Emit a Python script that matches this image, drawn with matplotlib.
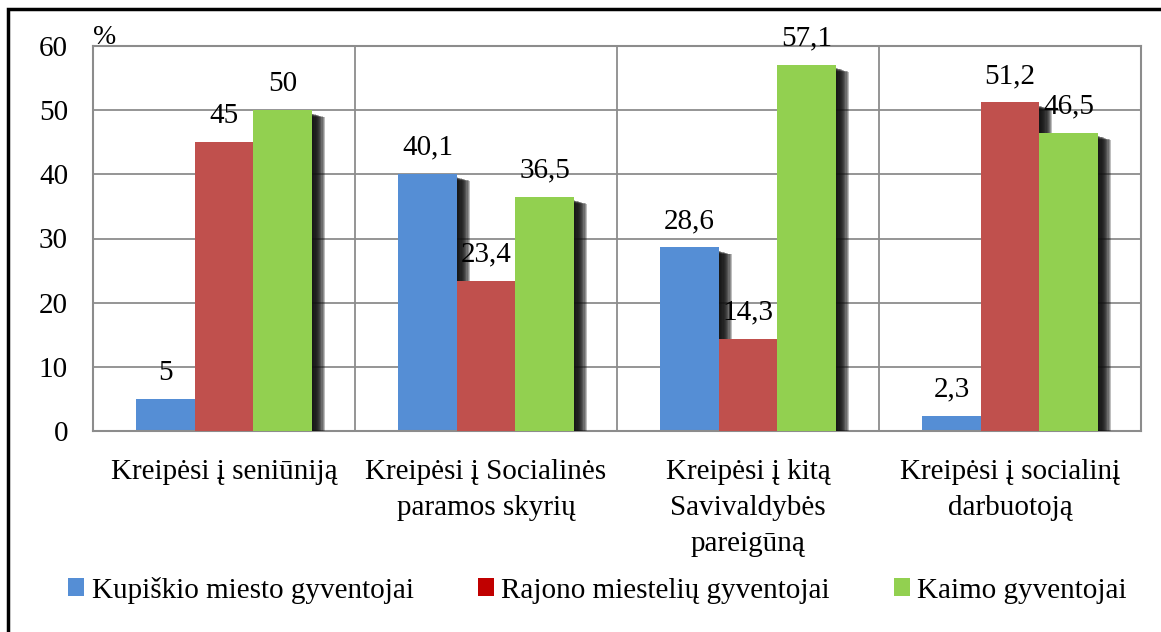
import matplotlib
matplotlib.use("Agg")
import matplotlib.pyplot as plt
import matplotlib.patheffects as pe
from matplotlib.patches import Rectangle, Patch
import numpy as np

categories = ["Kreipėsi į seniūniją", "Kreipėsi į Socialinės\nparamos skyrių",
              "Kreipėsi į kitą\nSavivaldybės\npareigūną", "Kreipėsi į socialinį\ndarbuotoją"]
series_names = ["Kupiškio miesto gyventojai", "Rajono miestelių gyventojai", "Kaimo gyventojai"]
kupiskis = [5, 40.1, 28.6, 2.3]
rajono = [45, 23.4, 14.3, 51.2]
kaimo = [50, 36.5, 57.1, 46.5]
yticks = [0, 10, 20, 30, 40, 50, 60]

bar_colors = ["#558ED5", "#C0504D", "#92D050"]
legend_colors = ["#558ED5", "#C00000", "#92D050"]

plt.rcParams['font.family'] = 'serif'
plt.rcParams['font.serif'] = ['Liberation Serif', 'Times New Roman', 'Nimbus Roman', 'DejaVu Serif']

W, H = 1161, 632
fig = plt.figure(figsize=(W / 100, H / 100), dpi=100)
ax = fig.add_axes([93 / W, 1 - 431 / H, (1141 - 93) / W, (431 - 46) / H])

grid_c = "#8C8C8C"
ax.set_xlim(-0.5, 3.5)
ax.set_ylim(0, 60)
ax.set_yticks(yticks)
ax.set_yticklabels([str(t) for t in yticks], fontsize=21)
ax.tick_params(axis='y', length=0, pad=18)
ax.set_xticks(range(len(categories)))
ax.set_xticklabels(categories, fontsize=21, linespacing=1.5)
ax.tick_params(axis='x', length=0, pad=20)
for s in ax.spines.values():
    s.set_color(grid_c)
    s.set_linewidth(1.5)
ax.set_axisbelow(True)
for y in yticks[1:]:
    ax.axhline(y, color=grid_c, lw=1.3, zorder=0)
for xb in [0.5, 1.5, 2.5]:
    ax.axvline(xb, color=grid_c, lw=1.3, zorder=0)

bw = 0.2233
x = np.arange(len(categories))
shadow = []
N = 11
for k in range(N):
    dx = 9.5 - k * 0.85
    dy = -(5.0 - k * 0.25)
    shadow.append(pe.SimplePatchShadow(offset=(dx, dy), shadow_rgbFace='#111111', alpha=0.27))
shadow.append(pe.Normal())

for i, (vals, col) in enumerate(zip([kupiskis, rajono, kaimo], bar_colors)):
    xs = x + (i - 1) * bw
    bars = ax.bar(xs, vals, width=bw, color=col, zorder=2 + i, linewidth=0)
    for b in bars:
        b.set_path_effects(shadow)
    for xi, v in zip(xs, vals):
        lbl = ("%g" % v).replace(".", ",")
        ax.annotate(lbl, (xi, v), xytext=(0, 19), textcoords='offset points',
                    ha='center', va='center', fontsize=21, zorder=10)

ax.annotate("%", (0, 1), xycoords='axes fraction', xytext=(0, -3), textcoords='offset points',
            fontsize=20, ha='left', va='bottom')

handles = [Patch(facecolor=c, edgecolor='none') for c in legend_colors]
fig.legend(handles, series_names, loc='center', bbox_to_anchor=(0.5 + 17 / W, 1 - 590 / H),
           ncol=3, frameon=False, fontsize=21, handlelength=0.55, handleheight=0.55,
           handletextpad=0.25, columnspacing=2.2)

border = Rectangle((8 / W, -0.1), 2, 1.1 - 9 / H, transform=fig.transFigure,
                   fill=False, edgecolor='black', lw=2.5, clip_on=False)
fig.patches.append(border)

fig.savefig("out.png", dpi=100)
